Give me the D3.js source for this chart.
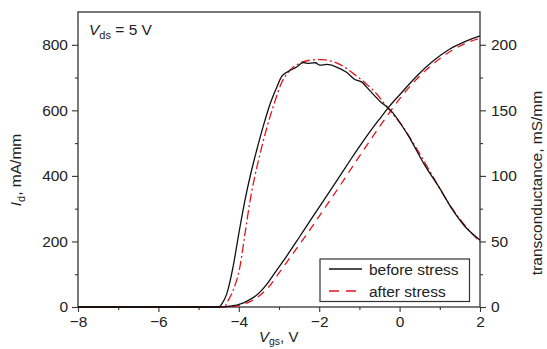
<!DOCTYPE html>
<html><head><meta charset="utf-8">
<script src="https://cdn.jsdelivr.net/npm/d3@7"></script>
<style>body{margin:0;background:#fff}svg{display:block;font-family:"Liberation Sans",Arial,sans-serif}</style>
</head><body><svg id="c" width="547" height="349"></svg>
<script>
// Vgs (V) and drain current Id (mA/mm)
const idBeforeV = [-8,-4.5,-4.3,-4.2,-4.05,-3.9,-3.75,-3.56,-3.3,-3.06,-2.8,-2.5,-2.2,-1.9,-1.5,-1.2,-0.94,-0.7,-0.49,-0.25,0.02,0.43,0.84,1.25,1.67,2.0];
const idBefore  = [0,0,1,3,6,12,21,36,70,112,157,212,268,323,397,453,500,541,575,613,650,705,751,787,812,827];
const idAfterV  = [-8,-4.35,-4.2,-4.05,-3.9,-3.75,-3.52,-3.25,-2.98,-2.7,-2.4,-2.15,-1.9,-1.5,-1.2,-0.9,-0.5,0,0.4,0.8,1.2,1.6,2.0];
const idAfter   = [0,0,1,3,8,15,31,62,107,155,206,250,295,367,423,478,550,635,692,738,775,802,820];
// transconductance gm (mS/mm)
const gmBeforeV = [-8,-4.5,-4.43,-4.3,-4.14,-4.0,-3.85,-3.7,-3.56,-3.4,-3.22,-3.05,-2.93,-2.75,-2.56,-2.4,-2.3,-2.2,-2.1,-1.98,-1.81,-1.57,-1.32,-1.11,-0.94,-0.74,-0.49,-0.22,0.19,0.61,1.03,1.32,1.61,1.9,2.0];
const gmBefore  = [0,0,2,10,31,56,81,102,119,137,155,168,176,180,183,186.5,185.8,186,186.3,184.5,185,183,179,173.5,171.5,165,157,150,132,109,89,74,62,53.5,51];
const gmAfterV  = [-8,-4.35,-4.3,-4.15,-3.97,-3.85,-3.72,-3.62,-3.47,-3.3,-3.1,-2.95,-2.8,-2.64,-2.45,-2.27,-2.1,-1.9,-1.7,-1.49,-1.3,-1.15,-0.82,-0.57,-0.3,0.07,0.4,0.8,1.2,1.5,1.8,2.0];
const gmAfter   = [0,0,3,12,31,55,81,97,117,137,157,170,178,183,186.5,188,188.6,188.6,187.5,185,181.5,178,170,162.5,152,138,122,101,80,67,56,50];

const xTicks = [-8,-6,-4,-2,0,2];
const xMinor = [-7,-5,-3,-1,1];
const yLeftTicks = [0,200,400,600,800];
const yLeftMinor = [100,300,500,700];
const yRightTicks = [0,50,100,150,200];
const yRightMinor = [25,75,125,175];
const legendLabels = ["before stress","after stress"];

const svg = d3.select("#c");
const L=78,R=480,T=12,B=307;
const x = d3.scaleLinear().domain([-8,2]).range([L,R]);
const yL = d3.scaleLinear().domain([0,900]).range([B,T]);
const yR = d3.scaleLinear().domain([0,225]).range([B,T]);
const axisCol="#333", fs="15.5px";

function styleAxis(g){
  g.select(".domain").remove();
  g.selectAll("line").attr("stroke",axisCol).attr("stroke-width",1.1);
  g.selectAll("text").attr("fill","#222").style("font-size",fs);
}
const fmt = d => d<0 ? "\u2212"+Math.abs(d) : String(d);
svg.append("g").attr("transform",`translate(0,${B})`).call(d3.axisBottom(x).tickValues(xTicks).tickFormat(fmt).tickSize(5).tickPadding(4)).call(styleAxis);
svg.append("g").attr("transform",`translate(0,${B})`).call(d3.axisBottom(x).tickValues(xMinor).tickFormat("").tickSize(3)).call(styleAxis);
svg.append("g").attr("transform",`translate(${L},0)`).call(d3.axisLeft(yL).tickValues(yLeftTicks).tickSize(6).tickPadding(4)).call(styleAxis);
svg.append("g").attr("transform",`translate(${L},0)`).call(d3.axisLeft(yL).tickValues(yLeftMinor).tickFormat("").tickSize(3)).call(styleAxis);
svg.append("g").attr("transform",`translate(${R},0)`).call(d3.axisRight(yR).tickValues(yRightTicks).tickSize(6).tickPadding(5)).call(styleAxis);
svg.append("g").attr("transform",`translate(${R},0)`).call(d3.axisRight(yR).tickValues(yRightMinor).tickFormat("").tickSize(3)).call(styleAxis);

svg.append("rect").attr("x",L).attr("y",T).attr("width",R-L).attr("height",B-T)
  .attr("fill","none").attr("stroke",axisCol).attr("stroke-width",1.3);

const red="#e4141e", blk="#111";
function draw(vs, vals, yS, col, dash){
  const pts = vs.map((v,i)=>[v,vals[i]]);
  svg.append("path").datum(pts)
    .attr("d", d3.line().x(d=>x(d[0])).y(d=>yS(d[1])).curve(d3.curveMonotoneX))
    .attr("fill","none").attr("stroke",col).attr("stroke-width",1.3)
    .attr("stroke-dasharray",dash||null);
}
draw(idAfterV, idAfter, yL, red, "8,6");
draw(gmAfterV, gmAfter, yR, red, "9,3,2,3");
draw(idBeforeV, idBefore, yL, blk);
draw(gmBeforeV, gmBefore, yR, blk);

// Vds annotation
const ann = svg.append("text").attr("x",89).attr("y",35).style("font-size","15.5px").attr("fill","#222");
ann.append("tspan").attr("font-style","italic").text("V");
ann.append("tspan").attr("dy",4).style("font-size","11px").text("ds");
ann.append("tspan").attr("dy",-4).text(" = 5 V");

// axis titles
const xl = svg.append("text").attr("x",259).attr("y",342).style("font-size","15px").attr("fill","#222");
xl.append("tspan").attr("font-style","italic").text("V");
xl.append("tspan").attr("dy",3).style("font-size","10.5px").text("gs");
xl.append("tspan").attr("dy",-3).text(", V");

const yl = svg.append("text").attr("transform","translate(21,170) rotate(-90)").attr("text-anchor","middle").style("font-size","15.5px").attr("fill","#222");
yl.append("tspan").attr("font-style","italic").text("I");
yl.append("tspan").attr("dy",4).style("font-size","11px").text("d");
yl.append("tspan").attr("dy",-4).text(", mA/mm");

svg.append("text").attr("transform","translate(542,183) rotate(-90)").attr("text-anchor","middle")
  .style("font-size","15.5px").attr("fill","#222").text("transconductance, mS/mm");

// legend
const lg = svg.append("g");
lg.append("rect").attr("x",320).attr("y",259).attr("width",149.5).attr("height",42.5)
  .attr("fill","#fff").attr("stroke",axisCol).attr("stroke-width",1.2);
const lc=[blk,red], ld=[null,"10,7"];
legendLabels.forEach((t,i)=>{
  const yy = 269 + i*22;
  lg.append("line").attr("x1",329).attr("x2",362).attr("y1",yy).attr("y2",yy)
    .attr("stroke",lc[i]).attr("stroke-width",1.3).attr("stroke-dasharray",ld[i]);
  lg.append("text").attr("x",369).attr("y",yy+5.5).style("font-size","15.5px").attr("fill","#222").text(t);
});
</script></body></html>
